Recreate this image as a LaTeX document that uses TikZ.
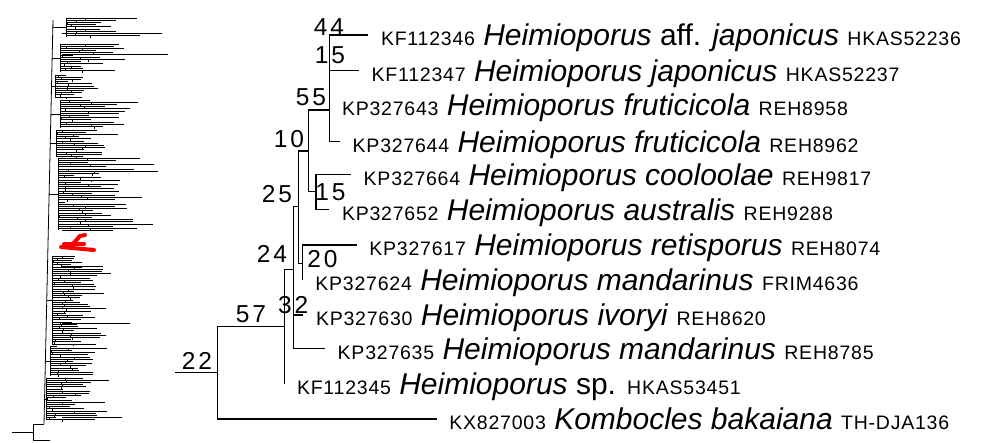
\documentclass[tikz,border=0pt]{standalone}
\usepackage{fontspec}
\setmainfont{Liberation Sans}
\newfontfamily\trackfont[LetterSpace=4]{Liberation Sans}
\newfontfamily\supfont[LetterSpace=12]{Liberation Sans}
\usetikzlibrary{positioning,calc}

\newcommand{\acc}[1]{{\trackfont\fontsize{19.5}{21}\selectfont #1}}

\begin{document}
\begin{tikzpicture}[x=1pt, y=-1pt,
  br/.style={line width=1.1pt},
  thumb/.style={line width=0.8pt, black},
  tip/.style={anchor=base west, inner sep=0pt, font=\fontsize{30}{32}\selectfont},
  bs/.style={inner sep=0pt, font=\supfont\fontsize{24.5}{26}\selectfont}]
\useasboundingbox (0,0) rectangle (997,443);

% overview of the whole tree
\pgfmathsetseed{11}
\draw[thumb] (53,20) -- (44,424);
\draw[thumb] (12,432) -- (33,432);
\draw[thumb] (33,424) -- (33,440);
\draw[thumb] (33,424) -- (44,424);
\draw[thumb] (33,440) -- (50,440);
\foreach \ya/\yb/\xb/\xr in {18/37/66/60, 44/72/60/70, 75/98/55/40, 100/128/60/80, 130/157/56/60, 158/230/58/75, 256/344/52/45, 346/376/50/50, 378/420/46/60}{
  \pgfmathsetmacro\ym{(\ya+\yb)/2}
  \pgfmathsetmacro\xs{53-9*(\ym-20)/404}
  \draw[thumb] (\xs,\ym) -- (\xb,\ym);
  \draw[thumb] (\xb,\ya) -- (\xb,\yb);
  \pgfmathtruncatemacro\n{(\yb-\ya)/2.2}
  \foreach \k in {0,...,\n}{
    \pgfmathsetmacro\yy{\ya+\k*2.2}
    \pgfmathsetmacro\xm{\xb+rnd*0.5*\xr}
    \pgfmathsetmacro\xe{\xm+6+rnd*\xr*0.8}
    \draw[thumb] (\xb,\yy) -- (\xe,\yy);
    \draw[thumb] (\xm,\yy) -- (\xm,\yy+2.2);
  }
}
\foreach \yy/\xe in {33/162, 54/168, 230/113, 266/103, 323/130, 417/122}
  \draw[thumb] (62,\yy) -- (\xe,\yy);
\draw[red, line width=4pt, line cap=round] (61,247) -- (94,250);
\draw[red, line width=4pt, line cap=round] (64,244) -- (84,244);
\draw[red, line width=4pt, line cap=round] (72,245) -- (80,236) -- (85,235);

% clade
\coordinate (stem) at (175,372.7);
\coordinate (n22) at (217.7,372.7);
\coordinate (n57) at (284.3,326.7);
\coordinate (n24) at (293.3,269.3);
\coordinate (n25) at (298.3,206.7);
\coordinate (n10) at (308.3,151);
\coordinate (n55) at (329.3,110);
\coordinate (n15) at (316,191.7);
\coordinate (n20) at (302.7,263.3);

\coordinate (l1) at (368.3,35);
\coordinate (l2) at (359,70.7);
\coordinate (l3) at (329.3,105);
\coordinate (l4) at (340,141.7);
\coordinate (l5) at (351,174.3);
\coordinate (l6) at (329.3,209.3);
\coordinate (l7) at (356.7,245);
\coordinate (l8) at (302.7,280);
\coordinate (l9) at (303.3,315);
\coordinate (l10) at (325,348.3);
\coordinate (l11) at (284.3,384);
\coordinate (l12) at (436.7,419);

\draw[br] (stem) -- (n22);
\draw[br] (n22) |- (n57);
\draw[br] (n22) |- (l12);
\draw[br] (n57) |- (n24);
\draw[br] (n57) |- (l11);
\draw[br] (n24) |- (n25);
\draw[br] (n24) |- (l9);
\draw[br] (n24) |- (l10);
\draw[br] (n25) |- (n10);
\draw[br] (n25) |- (n20);
\draw[br] (n10) |- (n55);
\draw[br] (n10) |- (n15);
\draw[br] (n55) |- (l1);
\draw[br] (n55) |- (l2);
\draw[br] (n55) |- (l3);
\draw[br] (n55) |- (l4);
\draw[br] (n15) |- (l5);
\draw[br] (n15) |- (l6);
\draw[br] (n20) |- (l7);
\draw[br] (n20) |- (l8);

\node[bs] (s44) at (329,27) {44};
\node[bs] (s15a) at (330,55.5) {15};
\node[bs] (s55) at (311,97.5) {55};
\node[bs] (s10) at (289,139) {10};
\node[bs] (s15b) at (330.5,191.7) {15};
\node[bs] (s25) at (277,194) {25};
\node[bs] (s20) at (322.5,259) {20};
\node[bs] (s24) at (272,254) {24};
\node[bs] (s32) at (293.3,305) {32};
\node[bs] (s57) at (251,314) {57};
\node[bs] (s22) at (197,360.5) {22};

\node[tip] (t1) at ([shift={(12.5pt,-11pt)}]l1) {\acc{KF112346} \textit{Heimioporus} aff. \textit{japonicus} \acc{HKAS52236}};
\node[tip] (t2) at ([shift={(12.5pt,-11pt)}]l2) {\acc{KF112347} \textit{Heimioporus japonicus} \acc{HKAS52237}};
\node[tip] (t3) at ([shift={(12.5pt,-11pt)}]l3) {\acc{KP327643} \textit{Heimioporus fruticicola} \acc{REH8958}};
\node[tip] (t4) at ([shift={(12.5pt,-11pt)}]l4) {\acc{KP327644} \textit{Heimioporus fruticicola} \acc{REH8962}};
\node[tip] (t5) at ([shift={(12.5pt,-11pt)}]l5) {\acc{KP327664} \textit{Heimioporus cooloolae} \acc{REH9817}};
\node[tip] (t6) at ([shift={(12.5pt,-11pt)}]l6) {\acc{KP327652} \textit{Heimioporus australis} \acc{REH9288}};
\node[tip] (t7) at ([shift={(12.5pt,-11pt)}]l7) {\acc{KP327617} \textit{Heimioporus retisporus} \acc{REH8074}};
\node[tip] (t8) at ([shift={(12.5pt,-11pt)}]l8) {\acc{KP327624} \textit{Heimioporus mandarinus} \acc{FRIM4636}};
\node[tip] (t9) at ([shift={(12.5pt,-11pt)}]l9) {\acc{KP327630} \textit{Heimioporus ivoryi} \acc{REH8620}};
\node[tip] (t10) at ([shift={(12.5pt,-11pt)}]l10) {\acc{KP327635} \textit{Heimioporus mandarinus} \acc{REH8785}};
\node[tip] (t11) at ([shift={(12.5pt,-11pt)}]l11) {\acc{KF112345} \textit{Heimioporus} sp. \acc{HKAS53451}};
\node[tip] (t12) at ([shift={(12.5pt,-11pt)}]l12) {\acc{KX827003} \textit{Kombocles bakaiana} \acc{TH-DJA136}};
\end{tikzpicture}
\end{document}
